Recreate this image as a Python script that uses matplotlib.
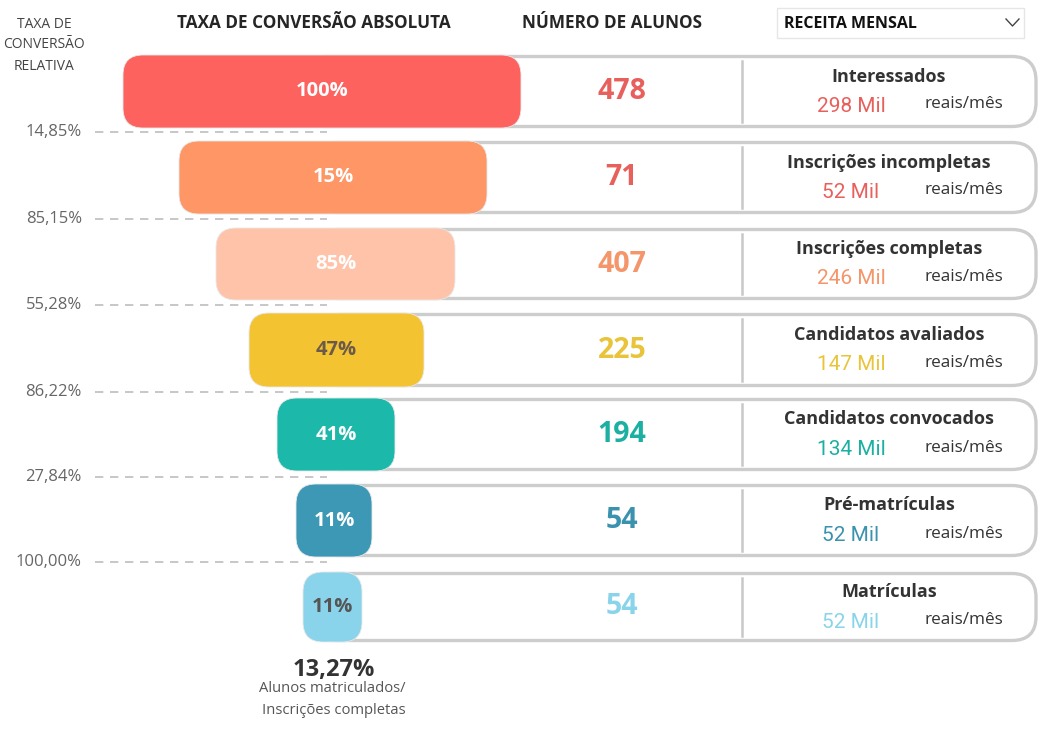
import matplotlib
matplotlib.use("Agg")
import matplotlib.pyplot as plt
from matplotlib.patches import FancyBboxPatch, Rectangle

# ---------------- data ----------------
stages = ["Interessados", "Inscrições incompletas", "Inscrições completas",
          "Candidatos avaliados", "Candidatos convocados", "Pré-matrículas", "Matrículas"]
abs_rate = [100, 15, 85, 47, 41, 11, 11]            # taxa de conversão absoluta (%)
students = [478, 71, 407, 225, 194, 54, 54]          # número de alunos
revenue_mil = [298, 52, 246, 147, 134, 52, 52]       # receita mensal (mil reais/mês)
rel_rate = ["14,85%", "85,15%", "55,28%", "86,22%", "27,84%", "100,00%"]  # taxa relativa
overall_rate = "13,27%"

# ---------------- style / layout ----------------
bar_colors = ["#FD625E", "#FE9666", "#FFC3A9", "#F4C331", "#1CB8A9", "#3C98B4", "#8AD4EB"]
num_colors = ["#E8605C", "#E8605C", "#F4956A", "#E9C43A", "#1CB0A2", "#3A92AE", "#8AD4EB"]
rev_colors = ["#E8605C", "#E8605C", "#F4956A", "#E9C43A", "#1CB0A2", "#3A92AE", "#8AD4EB"]
label_colors = ["white", "white", "white", "#6B5A4A", "white", "white", "#555555"]
bar_left = [123, 179, 216, 249, 277, 296, 303]
bar_right = [521, 487, 455, 424, 395, 372, 362]
row_top = [55, 141, 228, 313, 398, 484, 572]
row_bot = [128, 214, 300, 387, 471, 557, 642]
dash_y = [132, 219, 305, 392, 477, 562]

FONT = ["Open Sans", "DejaVu Sans"]
plt.rcParams["font.family"] = FONT

fig = plt.figure(figsize=(10.41, 7.30), dpi=100)
ax = fig.add_axes([0, 0, 1, 1])
ax.set_xlim(0, 1041)
ax.set_ylim(730, 0)
ax.axis("off")

# headers
ax.text(44, 24, "TAXA DE", ha="center", va="center", fontsize=10, color="#444444")
ax.text(44, 45, "CONVERSÃO", ha="center", va="center", fontsize=10, color="#444444")
ax.text(44, 67, "RELATIVA", ha="center", va="center", fontsize=10, color="#444444")
ax.text(314, 23, "TAXA DE CONVERSÃO ABSOLUTA", ha="center", va="center",
        fontsize=12.3, fontweight="bold", color="#252525")
ax.text(612, 23, "NÚMERO DE ALUNOS", ha="center", va="center",
        fontsize=12.3, fontweight="bold", color="#252525")
ax.add_patch(Rectangle((777, 8), 247, 30, facecolor="white", edgecolor="#E6E6E6", lw=1))
ax.text(784, 24, "RECEITA MENSAL", ha="left", va="center",
        fontsize=11.5, fontweight="bold", color="#111111")
ax.plot([1006, 1012.5, 1019], [19, 26, 19], color="#444444", lw=1)

for i, st in enumerate(stages):
    top, bot = row_top[i], row_bot[i]
    h = bot - top
    cy = (top + bot) / 2
    bx = (bar_left[i] + bar_right[i]) / 2
    # card (starts hidden behind the funnel bar)
    card_left = bx - 20
    card = FancyBboxPatch((card_left, top + 1.5), 1036 - card_left, h - 3,
                          boxstyle="round,pad=0,rounding_size=24",
                          facecolor="white", edgecolor="#CDCDCD", lw=2.4, zorder=1)
    ax.add_patch(card)
    ax.plot([742, 742], [top + 6, bot - 6], color="#C8C8C8", lw=1.8, zorder=2)
    # funnel bar
    bar = FancyBboxPatch((bar_left[i], top), bar_right[i] - bar_left[i], h,
                         boxstyle="round,pad=0,rounding_size=20",
                         facecolor=bar_colors[i], edgecolor="#E8E8E8", lw=0.6, zorder=3)
    ax.add_patch(bar)
    ax.text(bx, cy, f"{abs_rate[i]}%", ha="center", va="center", fontsize=14.5,
            fontweight="bold", color=label_colors[i], zorder=4)
    # number of students
    ax.text(622, cy, f"{students[i]}", ha="center", va="center", fontsize=20.5,
            fontweight="bold", color=num_colors[i], zorder=4)
    # revenue card text
    ax.text(889, cy - 15, st, ha="center", va="center", fontsize=13,
            fontweight="bold", color="#333333", zorder=4)
    ax.text(851, cy + 15, f"{revenue_mil[i]} Mil", ha="center", va="center",
            fontsize=15, color=rev_colors[i], family=["Roboto", "DejaVu Sans"], zorder=4)
    ax.text(964, cy + 13, "reais/mês", ha="center", va="center", fontsize=12.3,
            color="#333333", zorder=4)

# relative conversion dashed lines
for y, lab in zip(dash_y, rel_rate):
    ax.plot([95, 327], [y, y], color="#BDBDBD", lw=1.2, ls=(0, (5, 4)), zorder=2)
    ax.text(82, y, lab, ha="right", va="center", fontsize=12, color="#666666")

# bottom summary
ax.text(334, 670, overall_rate, ha="center", va="center", fontsize=17,
        fontweight="bold", color="#333333")
ax.text(332, 689, "Alunos matriculados/", ha="center", va="center", fontsize=10.6, color="#555555")
ax.text(334, 710, "Inscrições completas", ha="center", va="center", fontsize=10.6, color="#555555")

fig.savefig("out.png", dpi=100)
